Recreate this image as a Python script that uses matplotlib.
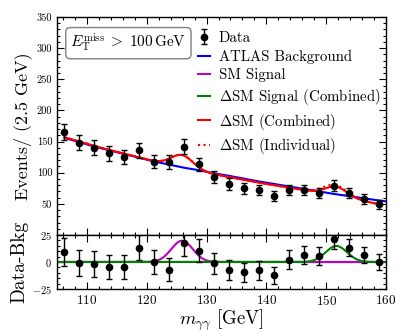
import numpy as np
import matplotlib
matplotlib.use("Agg")
import matplotlib.pyplot as plt
from matplotlib.ticker import MultipleLocator

plt.rcParams['font.family'] = 'serif'
plt.rcParams['font.serif'] = ['cmr10']
plt.rcParams['mathtext.fontset'] = 'cm'
plt.rcParams['axes.formatter.use_mathtext'] = True

# bin centres (2.5 GeV bins)
mass = [106.25, 108.75, 111.25, 113.75, 116.25, 118.75, 121.25, 123.75, 126.25, 128.75, 131.25,
        133.75, 136.25, 138.75, 141.25, 143.75, 146.25, 148.75, 151.25, 153.75, 156.25, 158.75]
events = [165, 148, 140, 131, 125, 136, 118, 117, 142, 113.5, 93,
          82, 75, 72, 63, 72, 72, 68, 79, 68, 58, 49]
events_err = [12.8, 12.2, 11.8, 11.4, 11.2, 11.7, 10.9, 10.8, 11.9, 10.7, 9.6,
              9.1, 8.7, 8.5, 7.9, 8.5, 8.5, 8.2, 8.9, 8.2, 7.6, 7.0]
resid = [9.4, -0.9, -1.9, -4.7, -4.4, 13.4, 0.0, -7.2, 17.8, 10.6, -1.2,
         -7.2, -9.4, -7.8, -12.2, 2.2, 6.6, 5.6, 20.9, 13.4, 6.6, 0.0]

# ATLAS background fit
bkg_mass = mass + [160.0]
bkg = [156, 149, 142, 136, 130, 124, 118, 113, 108, 104, 99,
       95, 90.5, 86, 82, 78, 74, 70, 66, 62.5, 59, 55.5, 54]
# background of the Delta SM fit
bkg_dsm = [157, 150, 143, 136.5, 130.5, 124.5, 118.5, 113, 108, 103, 97.5,
           93, 88.5, 84, 80, 76, 72, 68, 63.5, 59, 54.5, 49.5]

# signal peaks: (mass, width, height)
sm_peak = (125.9, 1.8, 19.7)
dsm_peak_comb = (151.7, 1.8, 14.8)
dsm_peak_ind = (151.5, 1.9, 17.5)


def peak(x, p):
    m, s, a = p
    return a * np.exp(-0.5 * ((x - m) / s) ** 2)


fig = plt.figure(figsize=(4.07, 3.33), dpi=100)
ax1 = fig.add_axes([57/407, 98/333, 329/407, 218/333])
ax2 = fig.add_axes([57/407, 44/333, 329/407, 54/333], sharex=ax1)

xf = np.linspace(mass[0], mass[-1], 500)
xall = np.linspace(105, 160, 600)
comb = np.interp(xf, mass, bkg_dsm) + peak(xf, sm_peak) + peak(xf, dsm_peak_comb)
indiv = np.interp(xf, mass, bkg_dsm) + peak(xf, sm_peak) + peak(xf, dsm_peak_ind)

h_data = ax1.errorbar(mass, events, yerr=events_err, fmt='o', color='k', ms=4.5,
                      capsize=2, elinewidth=1, capthick=1, label='Data', zorder=5)
h_bkg, = ax1.plot(bkg_mass, bkg, color='b', lw=1.5, label='ATLAS Background')
h_sm, = ax1.plot([], [], color='m', lw=1.5, label='SM Signal')
h_dsig, = ax1.plot([], [], color='g', lw=1.5, label=r'$\Delta$SM Signal (Combined)')
h_comb, = ax1.plot(xf, comb, color='r', lw=1.5, label=r'$\Delta$SM (Combined)')
h_ind, = ax1.plot(xf, indiv, color='r', lw=1.5, ls=':', label=r'$\Delta$SM (Individual)')

ax1.set_xlim(105, 160)
ax1.set_ylim(0, 350)
ax1.set_yticks(range(0, 351, 50))
ax1.set_yticklabels([''] + [str(v) for v in range(50, 351, 50)])
ax1.yaxis.set_minor_locator(MultipleLocator(10))
ax1.xaxis.set_major_locator(MultipleLocator(10))
ax1.xaxis.set_minor_locator(MultipleLocator(2))
ax1.tick_params(labelbottom=False)
ax1.set_ylabel('Events/ (2.5 GeV)', fontsize=13, labelpad=3)

ax1.text(0.217, 0.88, r'$E_{\mathrm{T}}^{\mathrm{miss}}\;>\;100\,\mathrm{GeV}$',
         transform=ax1.transAxes, ha='center', va='center', fontsize=11,
         bbox=dict(boxstyle='round,pad=0.3', fc='white', ec='gray', lw=1))

handles = [h_data, h_bkg, h_sm, h_dsig, h_comb, h_ind]
ax1.legend(handles=handles, labels=[h.get_label() for h in handles],
           loc='upper left', bbox_to_anchor=(0.428, 0.935), frameon=False,
           fontsize=10.7, handlelength=0.8, handletextpad=0.6, labelspacing=0.31,
           borderpad=0, borderaxespad=0)

ax2.axhline(0, color='k', lw=1.5)
ax2.plot(xall, peak(xall, sm_peak), color='m', lw=1.5)
ax2.plot(xall, peak(xall, dsm_peak_comb), color='g', lw=1.5)
ax2.errorbar(mass, resid, yerr=events_err, fmt='o', color='k', ms=4.5,
             capsize=2, elinewidth=1, capthick=1, zorder=5)
ax2.set_ylim(-25, 25)
ax2.set_yticks([-25, 0, 25])
ax2.yaxis.set_minor_locator(MultipleLocator(5))
ax2.set_xlabel(r'$m_{\gamma\gamma}$ [GeV]', fontsize=13.5, labelpad=0)
ax2.set_ylabel('Data-Bkg', fontsize=14, labelpad=3)

for ax in (ax1, ax2):
    ax.tick_params(which='both', direction='in', top=True, right=True, width=0.8)
    ax.tick_params(which='major', length=5)
    ax.tick_params(which='minor', length=2.5)
    ax.tick_params(axis='y', labelsize=7.5)
    ax.tick_params(axis='x', labelsize=9.5)
    for s in ax.spines.values():
        s.set_linewidth(1)

fig.savefig('out.png', dpi=100)
